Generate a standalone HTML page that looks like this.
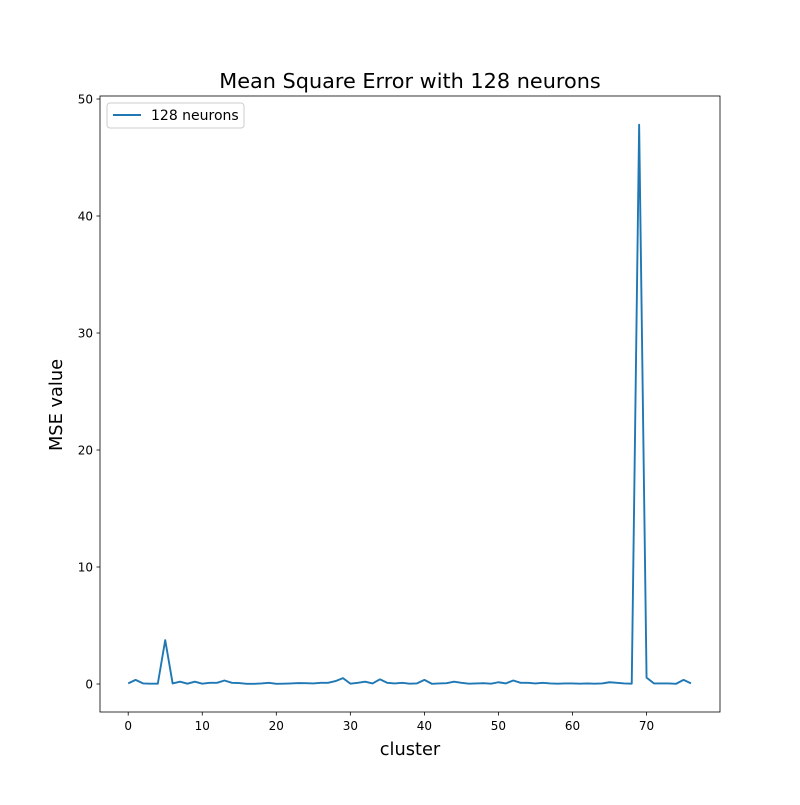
<!DOCTYPE html>
<html><head><meta charset="utf-8"><style>
body{margin:0;background:#fff;width:800px;height:800px;overflow:hidden}
text{font-family:"DejaVu Sans","Liberation Sans",sans-serif}
</style></head><body>
<svg id="chart" width="800" height="800" xmlns="http://www.w3.org/2000/svg"></svg>
<script>
const clusters = Array.from({length:77},(_,i)=>i);
const mseValues = [0.05,0.35,0.05,0.03,0.03,3.75,0.05,0.2,0.03,0.2,0.03,0.1,0.1,0.3,0.1,0.08,0.02,0.02,0.05,0.1,0.02,0.03,0.05,0.08,0.07,0.05,0.1,0.1,0.25,0.5,0.03,0.1,0.2,0.05,0.4,0.1,0.05,0.1,0.03,0.05,0.35,0.02,0.05,0.07,0.2,0.1,0.03,0.05,0.07,0.03,0.15,0.05,0.3,0.1,0.1,0.05,0.1,0.05,0.03,0.05,0.05,0.03,0.05,0.03,0.05,0.15,0.1,0.05,0.03,47.8,0.55,0.05,0.05,0.05,0.02,0.35,0.05];
const xTicks = [0,10,20,30,40,50,60,70];
const yTicks = [0,10,20,30,40,50];
const NS="http://www.w3.org/2000/svg";
const svg=document.getElementById('chart');
const L=100,R=720,T=96,B=712;
const X=v=>128.2+v*7.405;
const Y=v=>684-v*11.7;
function mk(tag,attrs,parent){const e=document.createElementNS(NS,tag);for(const k in attrs)e.setAttribute(k,attrs[k]);(parent||svg).appendChild(e);return e;}
const title=mk('text',{x:410,y:88,'text-anchor':'middle','font-size':20.8});
title.textContent='Mean Square Error with 128 neurons';


const pts=clusters.map((c,i)=>X(c).toFixed(2)+','+Y(mseValues[i]).toFixed(2)).join(' ');
const line=mk('polyline',{points:pts,fill:'none',stroke:'#1f77b4','stroke-width':1.9,'stroke-linejoin':'round'});


const frame=mk('rect',{x:L,y:T,width:R-L,height:B-T,fill:'none',stroke:'#000','stroke-width':0.8});


xTicks.forEach(t=>{
  const g=mk('g',{});
  
  
  mk('line',{x1:X(t),x2:X(t),y1:B,y2:B+3.5,stroke:'#000','stroke-width':0.8},g);
  const tx=mk('text',{x:X(t),y:B+18,'text-anchor':'middle','font-size':12},g);tx.textContent=t;
});
yTicks.forEach(t=>{
  const g=mk('g',{});
  
  
  mk('line',{x1:L-3.5,x2:L,y1:Y(t),y2:Y(t),stroke:'#000','stroke-width':0.8},g);
  const tx=mk('text',{x:L-7,y:Y(t)+4.5,'text-anchor':'end','font-size':12},g);tx.textContent=t;
});
const xl=mk('text',{x:410,y:755,'text-anchor':'middle','font-size':17.8});xl.textContent='cluster';


const yl=mk('text',{x:62,y:405,'text-anchor':'middle','font-size':17.8,transform:'rotate(-90 62 405)'});yl.textContent='MSE value';


const lg=mk('g',{});


mk('rect',{x:107,y:103,width:137,height:25,rx:3,fill:'#fff',stroke:'#ccc','stroke-width':1},lg);
mk('line',{x1:113,x2:141,y1:115,y2:115,stroke:'#1f77b4','stroke-width':1.9},lg);
const lt=mk('text',{x:151,y:120,'font-size':14},lg);lt.textContent='128 neurons';
</script>
</body></html>
